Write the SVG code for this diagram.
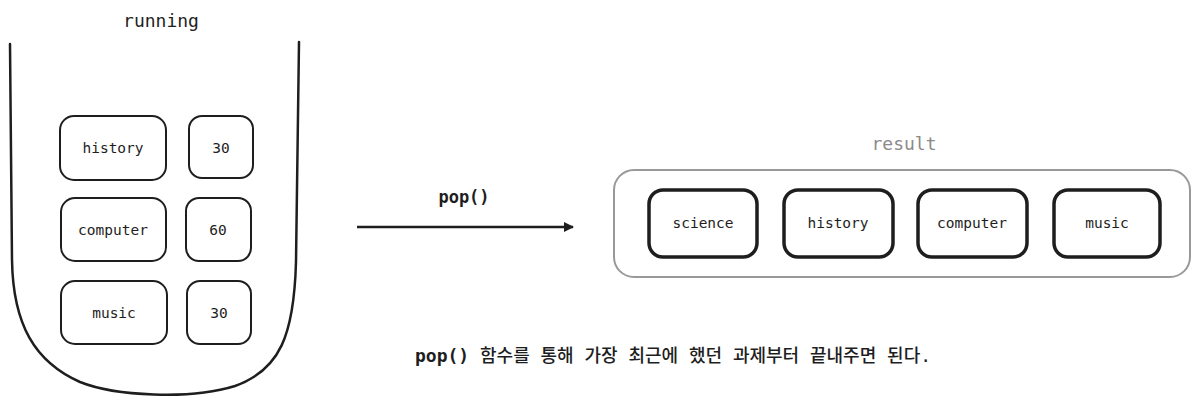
<svg xmlns="http://www.w3.org/2000/svg" width="1200" height="406" viewBox="0 0 1200 406">
<style>
.t{font-family:"DejaVu Sans Mono","Liberation Mono","Noto Sans CJK KR",monospace;fill:#1e1e1e;text-anchor:middle}
.lbl{font-size:14.5px}
.ttl{font-size:18px}
.box{fill:#fff;stroke:#1e1e1e;stroke-width:2}
.bbox{fill:#fff;stroke:#1e1e1e;stroke-width:3.5}
.kr{font-family:"DejaVu Sans Mono","Noto Sans CJK KR",monospace;fill:#1e1e1e}
</style>
<defs>
<marker id="ah" markerWidth="10" markerHeight="10" refX="9" refY="5" orient="auto" markerUnits="userSpaceOnUse" viewBox="0 0 10 10">
<path d="M0,0 L10,5 L0,10 Z" fill="#1e1e1e"/>
</marker>
</defs>
<rect width="1200" height="406" fill="#fff"/>

<g id="running">
<text class="t ttl" x="161" y="27">running</text>
<path d="M10,44 L12,260 C13,325 35,362 80,382 C115,396 190,400 235,386 C280,370 294,335 296,262 L299,42" fill="none" stroke="#1e1e1e" stroke-width="2.5" stroke-linecap="round"/>
</g>

<g id="r-history">
<rect class="box" x="60" y="116" width="106" height="64" rx="14"/>
<text class="t lbl" x="113" y="153">history</text>
</g>
<g id="r-30a">
<rect class="box" x="189" y="116" width="64" height="62" rx="13"/>
<text class="t lbl" x="221" y="153">30</text>
</g>
<g id="r-computer">
<rect class="box" x="61" y="198" width="105" height="63" rx="14"/>
<text class="t lbl" x="113" y="235">computer</text>
</g>
<g id="r-60">
<rect class="box" x="186" y="198" width="65" height="63" rx="13"/>
<text class="t lbl" x="218" y="235">60</text>
</g>
<g id="r-music">
<rect class="box" x="61" y="281" width="106" height="63" rx="14"/>
<text class="t lbl" x="114" y="318">music</text>
</g>
<g id="r-30b">
<rect class="box" x="187" y="281" width="64" height="63" rx="13"/>
<text class="t lbl" x="219" y="318">30</text>
</g>

<g id="connectors">
<line x1="357" y1="227" x2="573" y2="227" stroke="#1e1e1e" stroke-width="2.5" marker-end="url(#ah)"/>
<text class="kr" x="464" y="203" font-size="17" font-weight="600" text-anchor="middle">pop()</text>
</g>

<g id="result">
<text class="t ttl" x="904" y="150" style="fill:#8a8a8a">result</text>
<rect x="614" y="170" width="576" height="107" rx="20" fill="none" stroke="#999" stroke-width="2"/>
</g>
<g id="s-science">
<rect class="bbox" x="649" y="190" width="108" height="67" rx="14"/>
<text class="t lbl" x="703" y="228">science</text>
</g>
<g id="s-history">
<rect class="bbox" x="784" y="190" width="109" height="67" rx="14"/>
<text class="t lbl" x="838" y="228">history</text>
</g>
<g id="s-computer">
<rect class="bbox" x="918" y="190" width="109" height="67" rx="14"/>
<text class="t lbl" x="972" y="228">computer</text>
</g>
<g id="s-music">
<rect class="bbox" x="1054" y="190" width="106" height="67" rx="14"/>
<text class="t lbl" x="1107" y="228">music</text>
</g>

<g id="note">
<text class="kr" x="415" y="362" font-size="18"><tspan font-weight="600">pop()</tspan><tspan font-weight="500"> 함수를 통해 가장 최근에 했던 과제부터 끝내주면 된다.</tspan></text>
</g>
</svg>
